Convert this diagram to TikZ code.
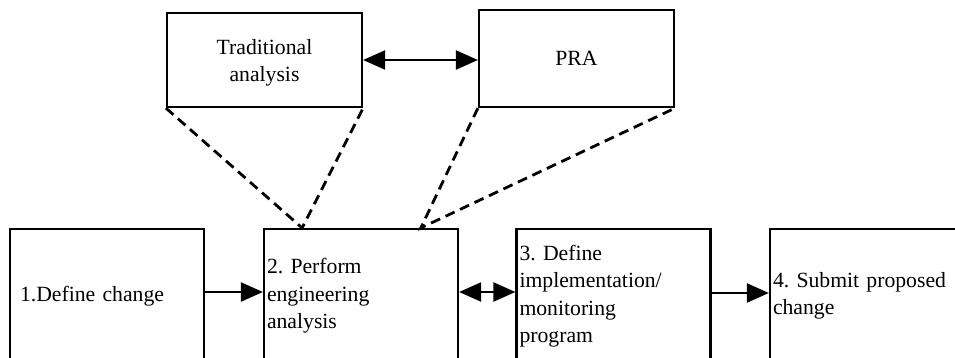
\documentclass[tikz,border=0pt]{standalone}
\usepackage{fontspec}
\setmainfont{Liberation Serif}
\usetikzlibrary{arrows.meta,calc}

\tikzset{
  every picture/.style={x=1pt,y=-1pt},
  txt/.style={font=\fontsize{21.7}{27.5}\selectfont\frenchspacing},
  topbox/.style={txt,draw,line width=2.2pt,minimum width=195pt,minimum height=95pt,
    align=center,inner sep=0pt},
  stepbox/.style={txt,draw,line width=2.2pt,minimum height=134pt,text width=188pt,
    inner xsep=3pt,inner ysep=0pt,align=left},
  head/.style={Triangle[length=22pt,width=19pt]},
  link/.style={line width=2.2pt,-{Triangle[length=22pt,width=19pt]}},
  dlink/.style={line width=2.2pt,{Triangle[length=22pt,width=19pt]}-{Triangle[length=22pt,width=19pt]}},
  tie/.style={line width=2.8pt,dash pattern=on 10pt off 6pt}
}

\begin{document}
\begin{tikzpicture}
  \useasboundingbox (0,0) rectangle (955,358);
  \clip (0,0) rectangle (955,358);

  % analysis methods
  \node[topbox,minimum height=94pt] (trad) at (264.5,60) {\rule{0pt}{20.8pt}Traditional\\analysis};
  \node[topbox,minimum height=97pt] (pra) at (576.5,58.5) {PRA};

  % process steps
  \node[stepbox,text width=174pt,inner xsep=10pt] (s1) at (107,296) {1.Define change};
  \node[stepbox] (s2) at (361,296) {2. Perform\\engineering\\analysis};
  \node[stepbox] (s3) at (613.5,296) {3. Define\\implementation/\\monitoring\\program};
  \node[stepbox] (s4) at (867,296) {4. Submit proposed\\change};

  % connector between the methods
  \draw[dlink] (trad.east) -- (trad.east -| pra.west);

  % methods feeding the engineering analysis
  \coordinate (t1) at ($(s2.north west)!0.2!(s2.north east)$);
  \coordinate (t2) at ($(s2.north west)!0.805!(s2.north east)$);
  \draw[tie] (trad.south west) -- (t1) -- (trad.south east);
  \draw[tie] (pra.south west) -- (t2) -- (pra.south east);

  % flow between the steps
  \draw[link] ([yshift=4pt]s1.east) -- ([yshift=4pt]s2.west);
  \draw[dlink] ([yshift=4pt]s2.east) -- ([yshift=4pt]s3.west);
  \draw[link] ([yshift=3pt]s3.east) -- ([yshift=3pt]s4.west);
\end{tikzpicture}
\end{document}
